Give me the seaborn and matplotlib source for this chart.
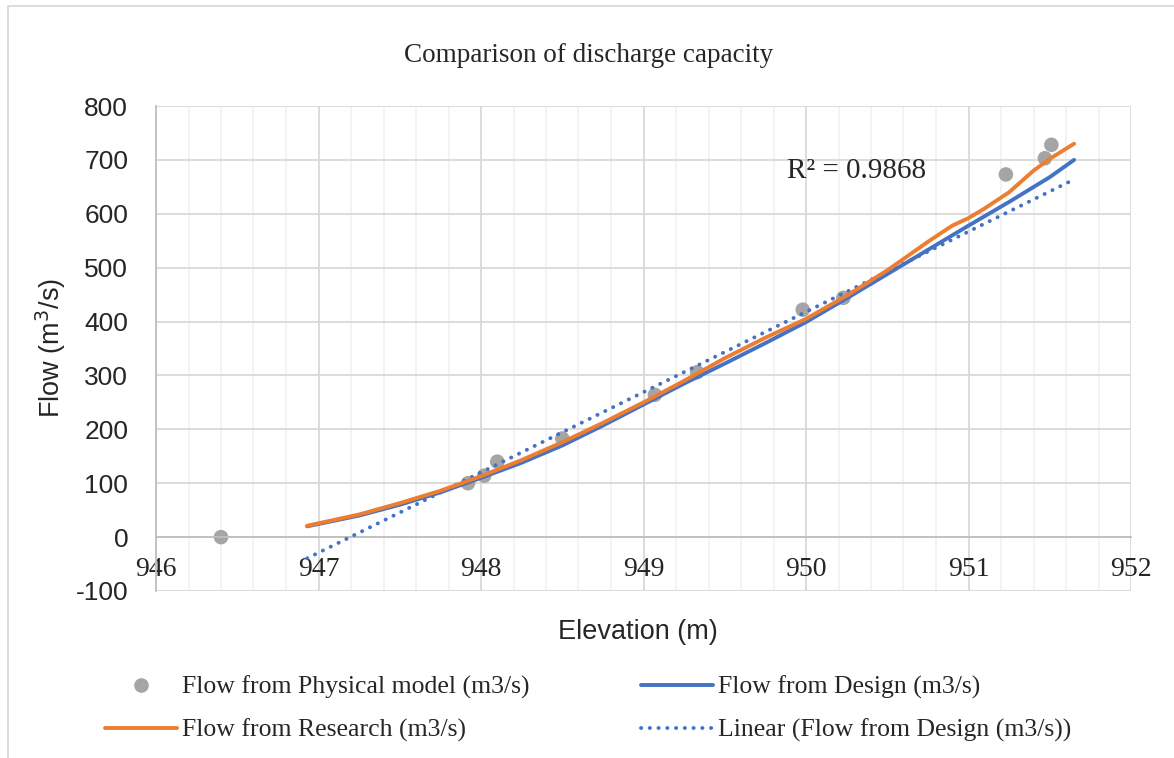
import matplotlib
matplotlib.use("Agg")
import matplotlib.pyplot as plt
import numpy as np
import pandas as pd
import seaborn as sns
from matplotlib.lines import Line2D
from matplotlib.patches import Rectangle
from matplotlib.ticker import MultipleLocator

# Flow from Physical model (m3/s)
phys_elev = [946.40, 947.92, 948.02, 948.10, 948.50, 949.07, 949.33, 949.98, 950.23, 951.23, 951.47, 951.51]
phys_flow = [0, 100, 114, 140, 183, 264, 306, 422, 444, 673, 703, 728]

# Flow from Design (m3/s)
design_elev = [946.93, 947.25, 947.5, 947.75, 948.0, 948.25, 948.5, 948.75, 949.0, 949.25,
               949.5, 949.75, 950.0, 950.25, 950.5, 950.75, 951.0, 951.25, 951.5, 951.65]
design_flow = [20, 40, 60, 83, 110, 138, 170, 207, 246, 285,
               322, 360, 399, 443, 488, 533, 578, 622, 668, 700]

# Flow from Research (m3/s)
research_elev = [946.93, 947.25, 947.5, 947.75, 948.0, 948.25, 948.5, 948.75, 949.0, 949.25, 949.5,
                 949.75, 950.0, 950.25, 950.5, 950.75, 950.9, 951.0, 951.1, 951.25, 951.4, 951.5, 951.65]
research_flow = [21, 42, 63, 86, 113, 143, 176, 212, 250, 290, 332,
                 370, 405, 448, 495, 548, 578, 592, 610, 640, 680, 702, 730]

r2_text = "R² = 0.9868"

BLUE = "#4472C4"
ORANGE = "#ED7D31"
GRAY = "#A5A5A5"
DOTS = (0, (0.05, 2.2))

sns.set_theme(style="white")
plt.rcParams['font.family'] = ['Liberation Serif', 'DejaVu Serif']
plt.rcParams['axes.unicode_minus'] = False

fig = plt.figure(figsize=(11.74, 7.58), dpi=100)
ax = fig.add_axes([156 / 1174, 1 - 591 / 758, (1131 - 156) / 1174, (591 - 106) / 758])

# linear trendline of the design series
coef = np.polyfit(design_elev, design_flow, 1)
trend = pd.DataFrame({'x': [design_elev[0], design_elev[-1]]})
trend['y'] = np.polyval(coef, trend['x'])

design = pd.DataFrame({'x': design_elev, 'y': design_flow})
research = pd.DataFrame({'x': research_elev, 'y': research_flow})
phys = pd.DataFrame({'x': phys_elev, 'y': phys_flow})

sns.lineplot(data=trend, x='x', y='y', ax=ax, color=BLUE, lw=2.8,
             linestyle=DOTS, dash_capstyle='round', zorder=3, estimator=None)
sns.lineplot(data=design, x='x', y='y', ax=ax, color=BLUE, lw=2.8, zorder=4, estimator=None)
sns.lineplot(data=research, x='x', y='y', ax=ax, color=ORANGE, lw=2.8, zorder=5, estimator=None)
sns.scatterplot(data=phys, x='x', y='y', ax=ax, color=GRAY, s=110, edgecolor='none', zorder=2)

ax.set_xlim(946, 952)
ax.set_ylim(-100, 800)
ax.xaxis.set_major_locator(MultipleLocator(1))
ax.xaxis.set_minor_locator(MultipleLocator(0.2))
ax.yaxis.set_major_locator(MultipleLocator(100))
ax.grid(which='major', color='#D9D9D9', lw=1.3)
ax.grid(which='minor', axis='x', color='#F2F2F2', lw=1.3)
ax.set_axisbelow(True)

for s in ['top', 'right']:
    ax.spines[s].set_visible(False)
ax.spines['left'].set_color('#BFBFBF')
ax.spines['left'].set_linewidth(1.3)
ax.spines['bottom'].set_position(('data', 0))
ax.spines['bottom'].set_color('#BFBFBF')
ax.spines['bottom'].set_linewidth(1.3)
ax.tick_params(which='both', length=0)
ax.tick_params(axis='x', labelsize=20, pad=14)
ax.tick_params(axis='y', labelsize=19, pad=20)
for lab in ax.get_yticklabels():
    lab.set_family('Liberation Sans')

ax.set_xlabel('')
ax.set_ylabel('')
fig.text(638 / 1174, 1 - 632 / 758, 'Elevation (m)', ha='center', va='center',
         fontsize=19.5, family='Liberation Sans')
fig.text(51 / 1174, 1 - 348 / 758, 'Flow (m$^3$/s)', ha='center', va='center',
         rotation=90, fontsize=19.5, family='Liberation Sans')
fig.text(589 / 1174, 1 - 55 / 758, 'Comparison of discharge capacity', ha='center',
         va='center', fontsize=19.5)
ax.text(950.74, 666, r2_text, fontsize=21, ha='right', va='baseline')

handles = [
    Line2D([], [], marker='o', ls='none', color=GRAY, markersize=10.5, markeredgewidth=0),
    Line2D([], [], color=ORANGE, lw=2.8),
    Line2D([], [], color=BLUE, lw=2.8),
    Line2D([], [], color=BLUE, lw=2.8, linestyle=DOTS, dash_capstyle='round'),
]
labels = ['Flow from Physical model (m3/s)', 'Flow from Research (m3/s)',
          'Flow from Design (m3/s)', 'Linear (Flow from Design (m3/s))']
fig.legend(handles, labels, ncol=2, loc='center', bbox_to_anchor=(588 / 1174, 1 - 709 / 758),
           frameon=False, fontsize=18.5, handlelength=2.8, handletextpad=0.2,
           columnspacing=4.35, labelspacing=0.78)

fig.patches.append(Rectangle((8 / 1174, -0.1), 1.2, 1 - 6 / 758 + 0.1, transform=fig.transFigure,
                             fill=False, edgecolor='#D9D9D9', lw=1.3, zorder=0))

fig.savefig('out.png', dpi=100)
